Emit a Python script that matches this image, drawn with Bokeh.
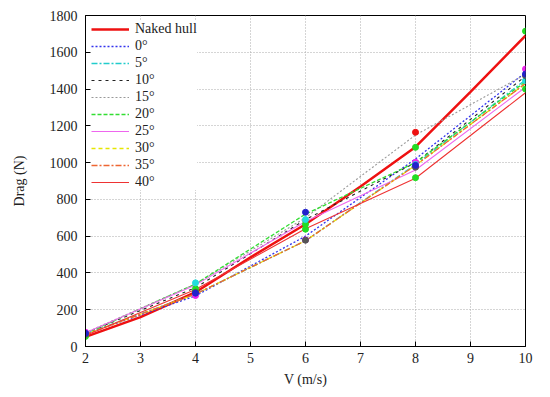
from bokeh.plotting import figure
from bokeh.models import Range1d, FixedTicker, Legend, LegendItem
from bokeh.embed import file_html
from bokeh.resources import INLINE

# ---- data ----
V = [2, 4, 6, 8, 10]
V_fine = [2, 3, 4, 5, 6, 7, 8, 9, 10]
naked_hull = [52, 160, 295, 485, 665, 870, 1085, 1385, 1690]
deg0 = [68, 275, 600, 1020, 1490]
deg5 = [70, 285, 575, 990, 1450]
deg10 = [72, 320, 690, 1000, 1470]
deg15 = [75, 340, 700, 1150, 1480]
deg20 = [70, 340, 720, 1000, 1440]
deg25 = [75, 335, 680, 960, 1410]
deg30 = [66, 285, 575, 985, 1430]
deg35 = [66, 285, 575, 985, 1430]
deg40 = [60, 310, 640, 915, 1380]

pts_green_a = [55, 300, 638, 918, 1400]
pts_green_b = [68, 314, 665, 1083, 1715]
pts_magenta = [78, 277, 580, 1002, 1509]
pts_blue = [72, 290, 730, 985, 1482]
pts_cyan = [70, 346, 690, 990, 1446]
pts_dark = [66, 295, 578, 975, 1473]
pts_red_v = [8]
pts_red = [1165]

x_ticks = [2, 3, 4, 5, 6, 7, 8, 9, 10]
y_ticks = [0, 200, 400, 600, 800, 1000, 1200, 1400, 1600, 1800]

FONT = "'Liberation Serif'"

p = figure(width=542, height=389, output_backend="svg", toolbar_location=None,
           x_range=Range1d(2, 10), y_range=Range1d(0, 1800),
           min_border_left=85, min_border_right=17, min_border_top=15, min_border_bottom=43)

p.outline_line_color = "black"
p.outline_line_width = 1
p.background_fill_color = "white"

for ax in (p.xaxis[0], p.yaxis[0]):
    ax.major_label_text_font = FONT
    ax.major_label_text_font_size = "14px"
    ax.major_label_text_color = "#222222"
    ax.axis_label_text_font = FONT
    ax.axis_label_text_font_size = "14px"
    ax.axis_label_text_font_style = "normal"
    ax.axis_label_text_color = "#222222"
    ax.major_tick_in = 5
    ax.major_tick_out = 0
    ax.minor_tick_in = 0
    ax.minor_tick_out = 0
    ax.axis_line_color = "black"
p.xaxis[0].ticker = FixedTicker(ticks=x_ticks)
p.yaxis[0].ticker = FixedTicker(ticks=y_ticks)
p.xaxis[0].axis_label = "V (m/s)"
p.yaxis[0].axis_label = "Drag (N)"
p.xaxis[0].major_label_standoff = 6
p.yaxis[0].major_label_standoff = 8
p.yaxis[0].axis_label_standoff = 20
p.xaxis[0].axis_label_standoff = 6

for g in (p.xgrid[0], p.ygrid[0]):
    g.grid_line_color = "#aaaaaa"
    g.grid_line_dash = "1 2"
    g.grid_line_width = 1
p.xgrid[0].ticker = FixedTicker(ticks=x_ticks)
p.ygrid[0].ticker = FixedTicker(ticks=y_ticks)

series = [
    ("Naked hull", V_fine, naked_hull, "#ee1111", 2.5, "solid"),
    ("0°", V, deg0, "#3333ee", 1.3, "2 2"),
    ("5°", V, deg5, "#22cccc", 1.3, "6 2 2 2"),
    ("10°", V, deg10, "#222222", 1.1, "3 4"),
    ("15°", V, deg15, "#999999", 1.1, "2 2"),
    ("20°", V, deg20, "#33dd33", 1.3, "4 2"),
    ("25°", V, deg25, "#ee66ee", 1.1, "solid"),
    ("30°", V, deg30, "#e6e600", 1.3, "4 3"),
    ("35°", V, deg35, "#ee6633", 1.3, "6 2 2 2"),
    ("40°", V, deg40, "#ee3333", 1.1, "solid"),
]

renderers = []
for name, xs, ys, col, w, dash in series:
    r = p.line(xs, ys, line_color=col, line_width=w, line_dash=dash)
    renderers.append((name, r))

pts = [
    (V, pts_green_a, "#22dd22"),
    (V, pts_green_b, "#22dd22"),
    (V, pts_magenta, "#ee22ee"),
    (V, pts_cyan, "#22dddd"),
    (V, pts_dark, "#555555"),
    (V, pts_blue, "#2222cc"),
    (pts_red_v, pts_red, "#ee1111"),
]
for xs, ys, col in pts:
    p.scatter(xs, ys, size=6, fill_color=col, line_color=col)

legend = Legend(items=[LegendItem(label=n, renderers=[r]) for n, r in renderers],
                location="top_left")
legend.label_text_font = FONT
legend.label_text_font_size = "14px"
legend.label_text_color = "#222222"
legend.label_height = 12
legend.glyph_height = 12
legend.glyph_width = 38
legend.spacing = 1
legend.padding = 4
legend.margin = 6
legend.label_standoff = 6
legend.border_line_color = None
legend.background_fill_color = "white"
legend.background_fill_alpha = 1.0
p.add_layout(legend)

open("out.html", "w").write(file_html(p, INLINE))
